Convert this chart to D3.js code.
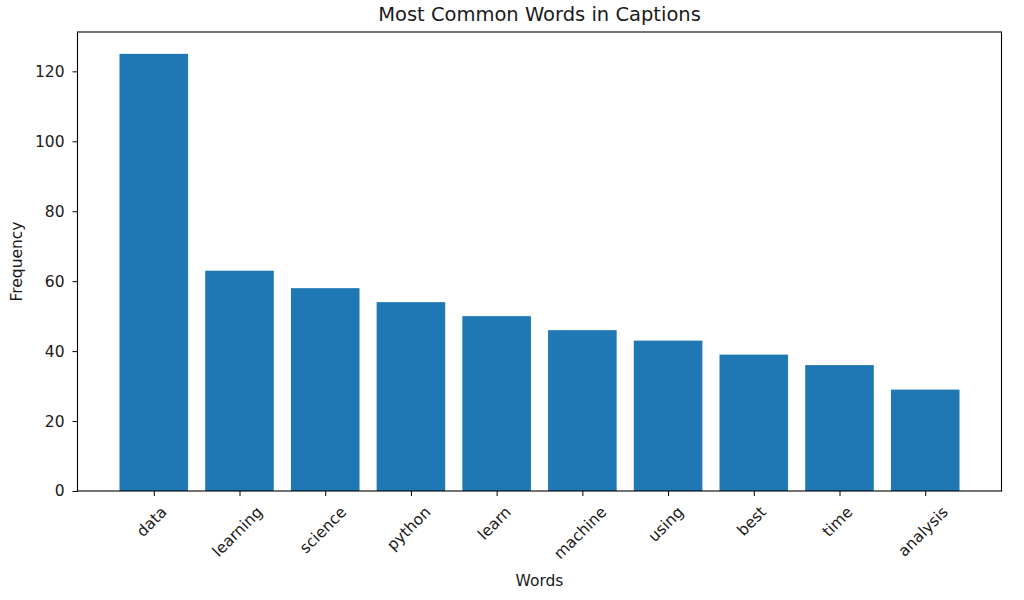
<!DOCTYPE html>
<html><head><meta charset="utf-8">
<script src="https://cdn.jsdelivr.net/npm/d3@7"></script>
<style>body{margin:0;background:#fff}text{font-family:"DejaVu Sans",sans-serif;fill:#1a1a1a}</style>
</head><body>
<svg id="c" width="1024" height="600"></svg>
<script>
const words = ["data","learning","science","python","learn","machine","using","best","time","analysis"];
const counts = [125,63,58,54,50,46,43,39,36,29];
const yTicks = [0,20,40,60,80,100,120];
const titleText = "Most Common Words in Captions";
const xLabel = "Words";
const yLabel = "Frequency";

const svg = d3.select("#c");
const L = 77.5, R = 1001.5, T = 32, B = 491;
const n = words.length;
const pad = 0.05*(n - 0.2);
const x = d3.scaleLinear().domain([-0.4 - pad, n - 1 + 0.4 + pad]).range([L, R]);
const y = d3.scaleLinear().domain([0, d3.max(counts)*1.05]).range([B, T]);
const bw = x(0.8) - x(0);
const fs = 15.5;

svg.append("g").selectAll("rect").data(counts).join("rect")
  .attr("x", (d,i) => x(i) - bw/2)
  .attr("y", d => y(d))
  .attr("width", bw)
  .attr("height", d => B - y(d))
  .attr("fill", "#1f77b4");

// frame
svg.append("rect").attr("x", L).attr("y", T).attr("width", R-L).attr("height", B-T)
  .attr("fill","none").attr("stroke","#000").attr("stroke-width",1.1);

// y axis
const ya = svg.append("g").attr("transform", `translate(${L},0)`)
  .call(d3.axisLeft(y).tickValues(yTicks).tickSize(5).tickPadding(8));
ya.select(".domain").remove();
ya.selectAll("text").style("font-size", fs+"px").attr("fill","#1a1a1a");
ya.selectAll("line").attr("stroke","#000");

// x axis
const xa = svg.append("g").attr("transform", `translate(0,${B})`)
  .call(d3.axisBottom(x).tickValues(d3.range(n)).tickSize(5).tickFormat(""));
xa.select(".domain").remove();
xa.selectAll("line").attr("stroke","#000");

const lbl = svg.append("g");
words.forEach((w,i) => {
  const t = lbl.append("text").text(w).style("font-size", fs+"px")
    .attr("text-anchor","middle").attr("dominant-baseline","central");
  const tw = t.node().getComputedTextLength();
  const h = fs;
  const half = (tw + h) / (2*Math.SQRT2);
  const cx = x(i) - 2, cy = B + 13 + half;
  t.attr("x", cx).attr("y", cy).attr("transform", `rotate(-45,${cx},${cy})`);
});

svg.append("text").attr("x", (L+R)/2).attr("y", 21).attr("text-anchor","middle")
  .style("font-size","19.5px").text(titleText);
svg.append("text").attr("x", (L+R)/2).attr("y", 585.5).attr("text-anchor","middle")
  .style("font-size", fs+"px").text(xLabel);
svg.append("text").attr("transform", `translate(22,${(T+B)/2}) rotate(-90)`).attr("text-anchor","middle")
  .style("font-size", fs+"px").text(yLabel);
</script>
</body></html>
